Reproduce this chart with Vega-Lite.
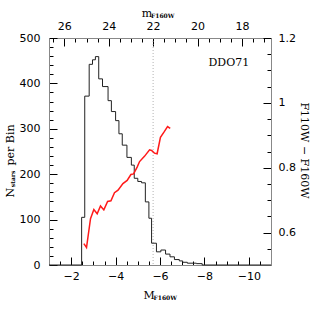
{
  "$schema": "https://vega.github.io/schema/vega-lite/v6.json",
  "width": 222,
  "height": 227,
  "autosize": {"type": "none"},
  "padding": {"left": 49, "top": 38, "right": 41, "bottom": 47},
  "background": "white",
  "config": {
    "view": {"stroke": "black", "strokeWidth": 1},
    "axis": {
      "grid": false,
      "labelFont": "DejaVu Sans",
      "labelFontSize": 11,
      "labelColor": "black",
      "titleFont": "DejaVu Serif",
      "titleFontSize": 11,
      "titleFontWeight": "normal",
      "titleColor": "black"
    }
  },
  "datasets": {
    "hist": [
      {"M": -1.0, "N": 0},
      {"M": -2.47, "N": 105},
      {"M": -2.61, "N": 372},
      {"M": -2.81, "N": 442},
      {"M": -2.96, "N": 452},
      {"M": -3.09, "N": 459},
      {"M": -3.24, "N": 410},
      {"M": -3.41, "N": 393},
      {"M": -3.66, "N": 362},
      {"M": -3.81, "N": 338},
      {"M": -4.0, "N": 318},
      {"M": -4.15, "N": 289},
      {"M": -4.3, "N": 264},
      {"M": -4.51, "N": 237},
      {"M": -4.71, "N": 220},
      {"M": -4.84, "N": 191},
      {"M": -5.0, "N": 184},
      {"M": -5.17, "N": 181},
      {"M": -5.34, "N": 139},
      {"M": -5.5, "N": 103},
      {"M": -5.62, "N": 48},
      {"M": -5.84, "N": 29},
      {"M": -6.04, "N": 33},
      {"M": -6.25, "N": 24},
      {"M": -6.45, "N": 18},
      {"M": -6.65, "N": 12},
      {"M": -6.87, "N": 9},
      {"M": -7.02, "N": 6},
      {"M": -7.23, "N": 4},
      {"M": -7.64, "N": 3},
      {"M": -7.9, "N": 0},
      {"M": -11.0, "N": 0}
    ],
    "colour": [
      {"M": -2.57, "F110W_F160W": 0.566},
      {"M": -2.69, "F110W_F160W": 0.554},
      {"M": -2.87, "F110W_F160W": 0.643},
      {"M": -3.02, "F110W_F160W": 0.671},
      {"M": -3.17, "F110W_F160W": 0.658},
      {"M": -3.32, "F110W_F160W": 0.682},
      {"M": -3.47, "F110W_F160W": 0.670},
      {"M": -3.64, "F110W_F160W": 0.696},
      {"M": -3.79, "F110W_F160W": 0.698},
      {"M": -3.95, "F110W_F160W": 0.723},
      {"M": -4.11, "F110W_F160W": 0.731},
      {"M": -4.33, "F110W_F160W": 0.751},
      {"M": -4.52, "F110W_F160W": 0.761},
      {"M": -4.69, "F110W_F160W": 0.779},
      {"M": -4.81, "F110W_F160W": 0.781},
      {"M": -4.97, "F110W_F160W": 0.802},
      {"M": -5.08, "F110W_F160W": 0.819},
      {"M": -5.30, "F110W_F160W": 0.835},
      {"M": -5.53, "F110W_F160W": 0.855},
      {"M": -5.62, "F110W_F160W": 0.853},
      {"M": -5.75, "F110W_F160W": 0.845},
      {"M": -5.87, "F110W_F160W": 0.843},
      {"M": -6.02, "F110W_F160W": 0.894},
      {"M": -6.20, "F110W_F160W": 0.912},
      {"M": -6.34, "F110W_F160W": 0.927},
      {"M": -6.46, "F110W_F160W": 0.921}
    ],
    "one": [{"label": "DDO71"}]
  },
  "layer": [
    {
      "data": {"name": "one"},
      "mark": {"type": "rule", "color": "#a0a0a0", "strokeWidth": 0.8, "strokeDash": [1, 2]},
      "encoding": {
        "x": {"datum": -5.69, "type": "quantitative", "scale": {"domain": [-11, -1], "reverse": true, "nice": false, "zero": false}, "axis": null}
      }
    },
    {
      "data": {"name": "hist"},
      "mark": {"type": "line", "interpolate": "step-after", "color": "#222222", "strokeWidth": 1},
      "encoding": {
        "x": {"field": "M", "type": "quantitative",
          "scale": {"domain": [-11, -1], "reverse": true, "nice": false, "zero": false},
          "axis": {"orient": "bottom", "values": [-2, -4, -6, -8, -10], "format": "d", "tickSize": -8, "tickWidth": 1, "tickColor": "black", "labelPadding": 13,
            "title": "M", "titleX": 94, "titleY": 33.5, "titleAlign": "left", "titleBaseline": "alphabetic", "titleAngle": 0}},
        "y": {"field": "N", "type": "quantitative",
          "scale": {"domain": [0, 500], "nice": false, "zero": false},
          "axis": {"orient": "left", "values": [0, 100, 200, 300, 400, 500], "format": "d", "tickSize": -8, "tickWidth": 1, "tickColor": "black", "labelPadding": 17,
            "title": "per Bin", "titleX": -36, "titleY": 127, "titleAlign": "left", "titleBaseline": "alphabetic", "titleAngle": -90}},
        "order": {"value": null}
      }
    },
    {
      "data": {"name": "colour"},
      "mark": {"type": "line", "color": "#ff1a1a", "strokeWidth": 1.5},
      "encoding": {
        "x": {"field": "M", "type": "quantitative",
          "scale": {"domain": [-11, -1], "reverse": true, "nice": false, "zero": false},
          "axis": {"orient": "bottom", "values": [-1.5, -2.5, -3, -3.5, -4.5, -5, -5.5, -6.5, -7, -7.5, -8.5, -9, -9.5, -10.5],
            "tickSize": -4, "tickWidth": 1, "tickColor": "black", "labels": false,
            "title": "F160W", "titleFontSize": 6, "titleFontWeight": "bold", "titleX": 104, "titleY": 34.5, "titleAlign": "left", "titleBaseline": "alphabetic", "titleAngle": 0}},
        "y": {"field": "F110W_F160W", "type": "quantitative",
          "scale": {"domain": [0.5, 1.2], "nice": false, "zero": false},
          "axis": {"orient": "right", "values": [0.6, 0.8, 1, 1.2], "format": "~g", "tickSize": -8, "tickWidth": 1, "tickColor": "black", "labelPadding": 15,
            "title": "F110W − F160W", "titleX": 29, "titleY": 112, "titleAlign": "center", "titleBaseline": "alphabetic", "titleAngle": 90}}
      }
    },
    {
      "data": {"name": "one"},
      "mark": {"type": "point", "opacity": 0},
      "encoding": {
        "x": {"datum": 22, "type": "quantitative",
          "scale": {"domain": [16.69, 26.69], "reverse": true, "nice": false, "zero": false},
          "axis": {"orient": "top", "values": [26, 24, 22, 20, 18], "format": "d", "tickSize": -8, "tickWidth": 1, "tickColor": "black", "labelPadding": 15,
            "title": "m", "titleX": 92.2, "titleY": -22, "titleAlign": "left", "titleBaseline": "alphabetic", "titleAngle": 0}},
        "y": {"datum": 0, "type": "quantitative",
          "scale": {"domain": [0, 500], "nice": false, "zero": false},
          "axis": {"orient": "left", "values": [20, 40, 60, 80, 120, 140, 160, 180, 220, 240, 260, 280, 320, 340, 360, 380, 420, 440, 460, 480],
            "tickSize": -4, "tickWidth": 1, "tickColor": "black", "labels": false,
            "title": "N", "titleX": -36, "titleY": 159, "titleAlign": "left", "titleBaseline": "alphabetic", "titleAngle": -90}}
      }
    },
    {
      "data": {"name": "one"},
      "mark": {"type": "point", "opacity": 0},
      "encoding": {
        "x": {"datum": 22, "type": "quantitative",
          "scale": {"domain": [16.69, 26.69], "reverse": true, "nice": false, "zero": false},
          "axis": {"orient": "top", "values": [26.5, 25.5, 25, 24.5, 23.5, 23, 22.5, 21.5, 21, 20.5, 19.5, 19, 18.5, 17.5, 17],
            "tickSize": -4, "tickWidth": 1, "tickColor": "black", "labels": false,
            "title": "F160W", "titleFontSize": 6, "titleFontWeight": "bold", "titleX": 101.5, "titleY": -20.7, "titleAlign": "left", "titleBaseline": "alphabetic", "titleAngle": 0}},
        "y": {"datum": 0.6, "type": "quantitative",
          "scale": {"domain": [0.5, 1.2], "nice": false, "zero": false},
          "axis": {"orient": "right", "values": [0.55, 0.65, 0.7, 0.75, 0.85, 0.9, 0.95, 1.05, 1.1, 1.15],
            "tickSize": -4, "tickWidth": 1, "tickColor": "black", "labels": false,
            "title": "stars", "titleFontSize": 6, "titleFontWeight": "bold", "titleX": -256.5, "titleY": 148.7, "titleAlign": "left", "titleBaseline": "alphabetic", "titleAngle": -90}}
      }
    },
    {
      "data": {"name": "one"},
      "mark": {"type": "text", "font": "DejaVu Serif", "fontSize": 11, "color": "black", "align": "center", "baseline": "middle"},
      "encoding": {
        "text": {"field": "label"},
        "x": {"datum": -9.1, "type": "quantitative", "scale": {"domain": [-11, -1], "reverse": true, "nice": false, "zero": false}, "axis": null},
        "y": {"datum": 445, "type": "quantitative", "scale": {"domain": [0, 500], "nice": false, "zero": false}, "axis": null}
      }
    }
  ],
  "resolve": {
    "scale": {"x": "independent", "y": "independent"},
    "axis": {"x": "independent", "y": "independent"}
  }
}
